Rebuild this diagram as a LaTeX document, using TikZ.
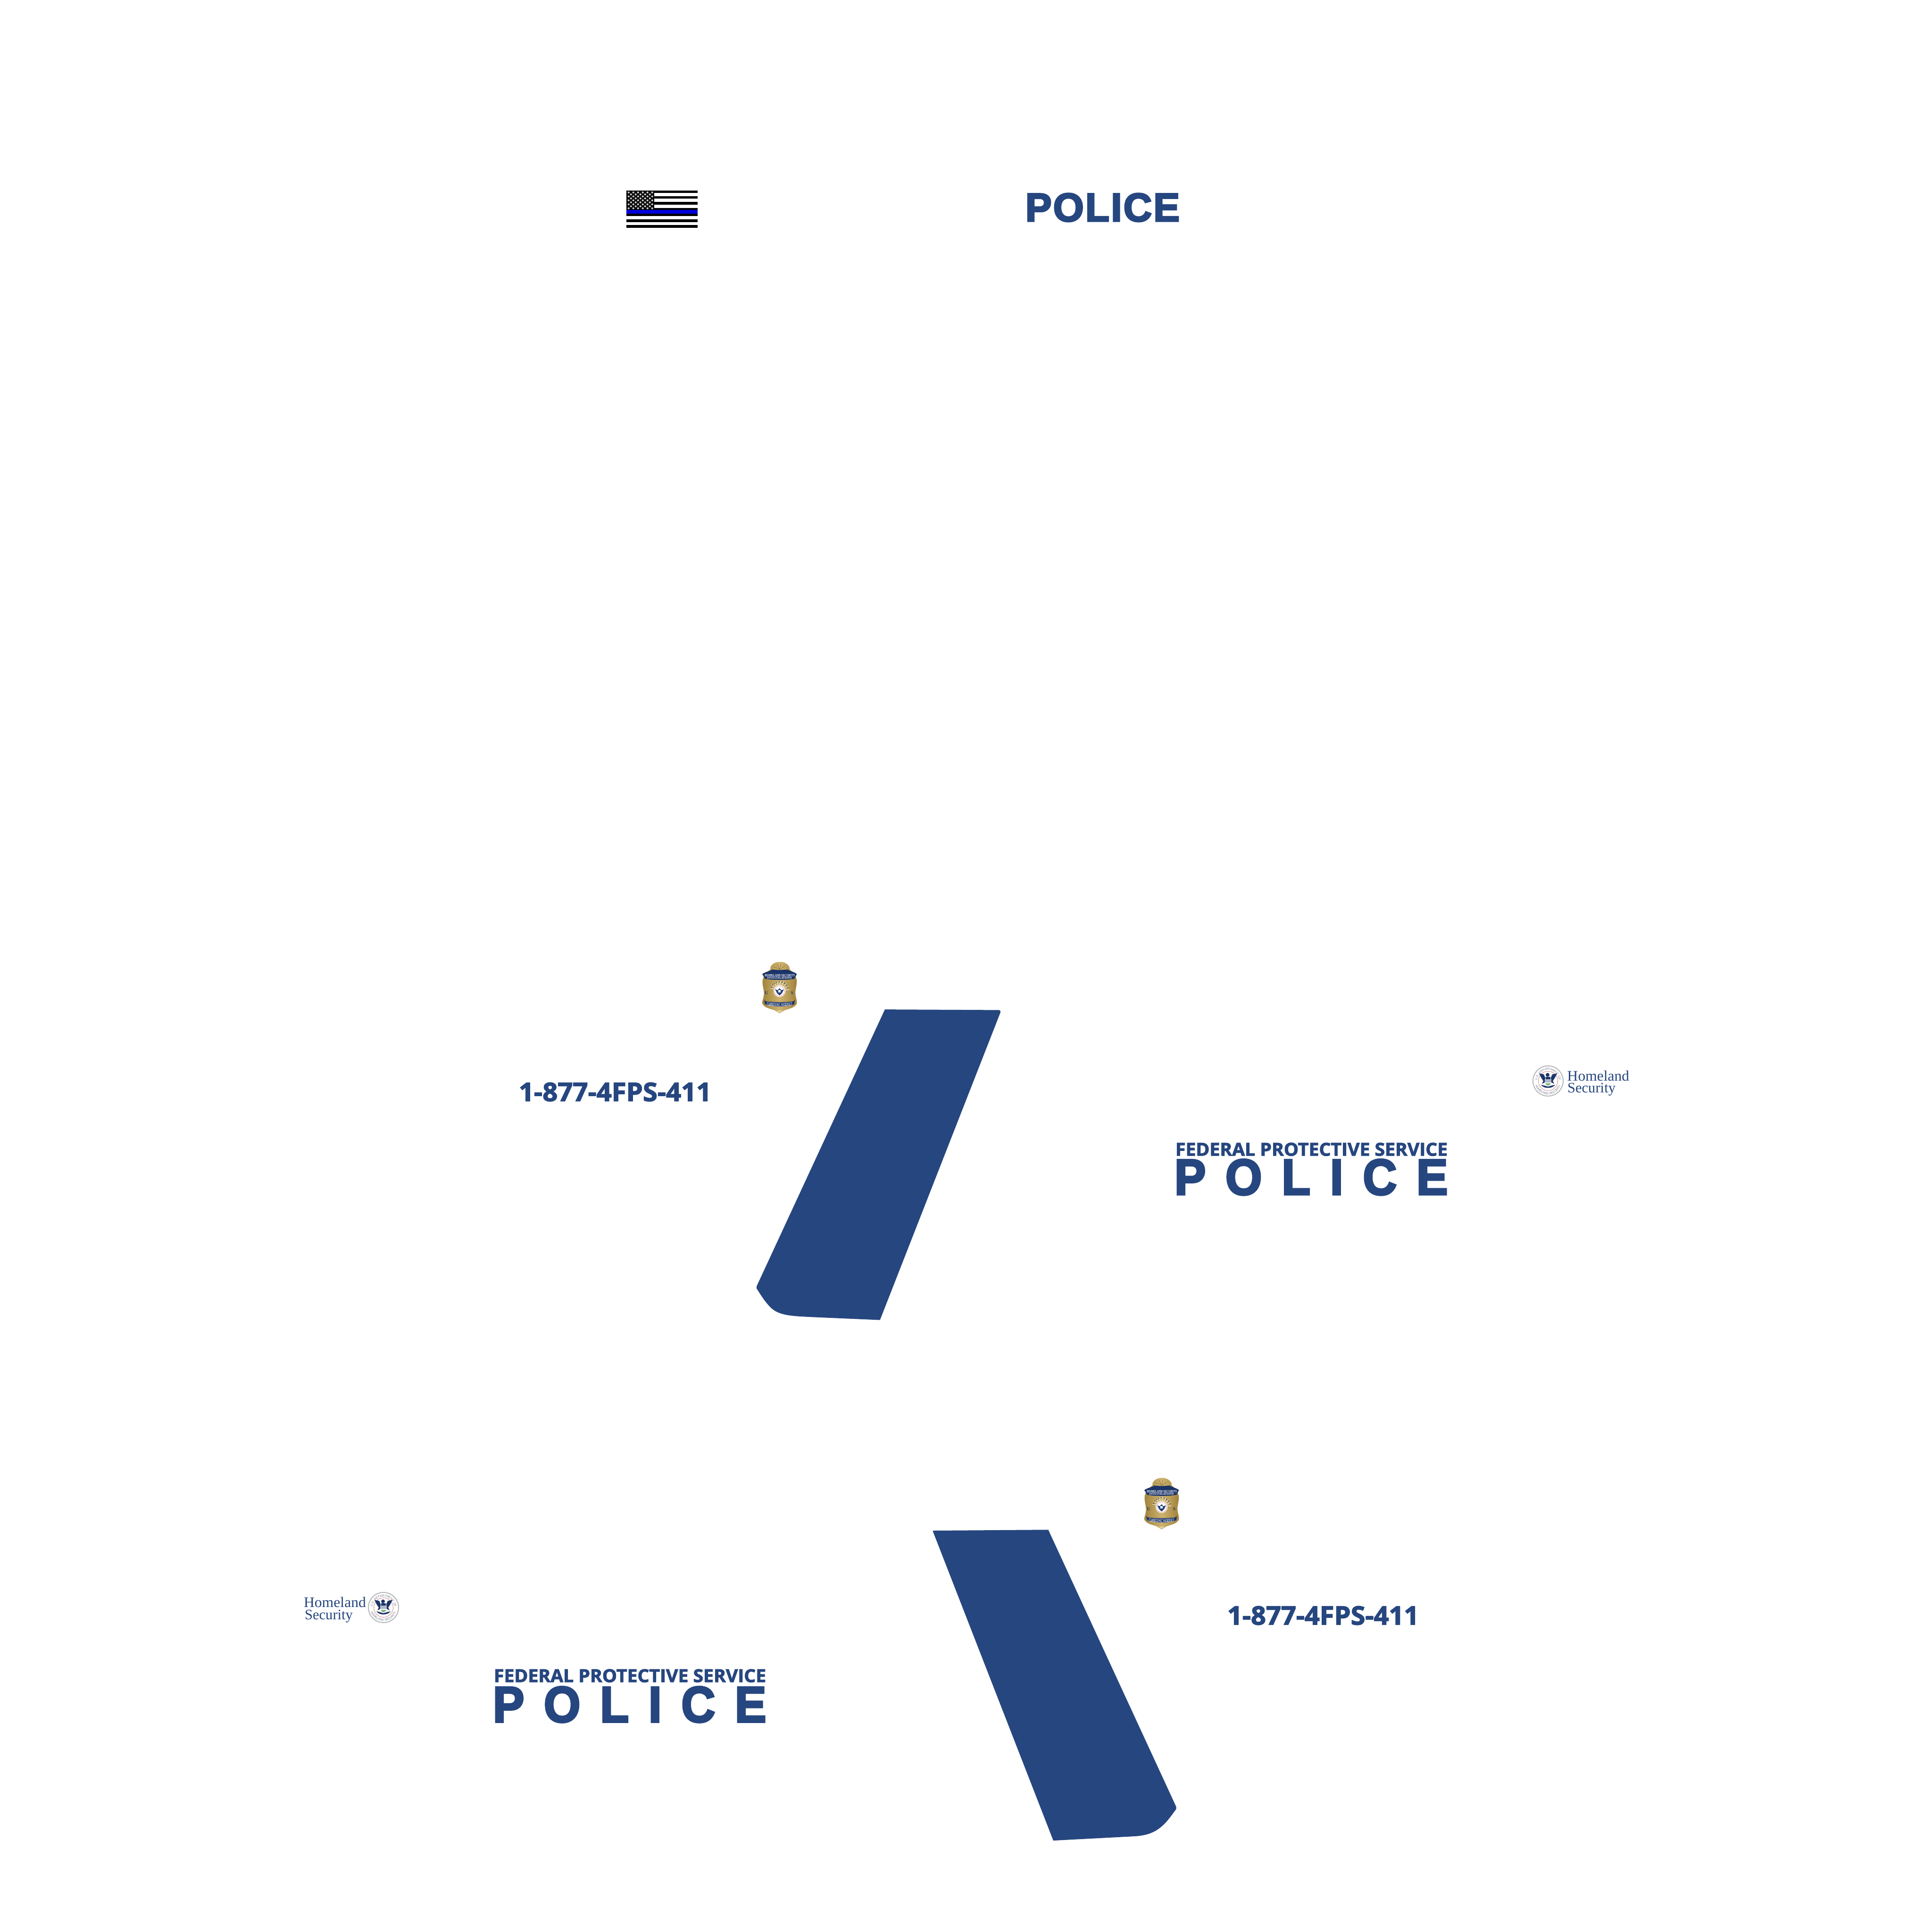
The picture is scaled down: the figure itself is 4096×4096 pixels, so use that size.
\documentclass[tikz,border=0pt]{standalone}
\usepackage{graphicx}
\usepackage{fontspec}
\usetikzlibrary{decorations.text}
\setmainfont{Liberation Serif}
\newfontfamily\heavyfont{Open Sans}[UprightFont=* Bold,FakeBold=2.5]
\newfontfamily\blackfont{Liberation Sans}[UprightFont=* Bold,FakeBold=4,LetterSpace=4]
\newfontfamily\spacedfont{Liberation Sans}[UprightFont=* Bold,FakeBold=4,LetterSpace=42]
\newfontfamily\sealfont{Liberation Sans}
\newfontfamily\badgefont{Liberation Serif}[UprightFont=* Bold]
\definecolor{fpsblue}{HTML}{26467F}
\definecolor{navy}{HTML}{1B3468}
\definecolor{sealgray}{HTML}{6F7C93}
\definecolor{goldA}{HTML}{A0813A}
\definecolor{goldB}{HTML}{CDB36F}
\definecolor{goldC}{HTML}{B29348}
\definecolor{goldT}{HTML}{E8D9A8}
\tikzset{
  fitted/.style={inner sep=0pt,outer sep=0pt,anchor=north west,text=fpsblue},
  bluepanel/.style={fill=fpsblue,draw=none},
  hstext/.style={inner sep=0pt,outer sep=0pt,anchor=base west,text=fpsblue},
  badgetext/.style={inner sep=0pt,outer sep=0pt,text=white}
}
\newcommand{\fitted}[3]{\resizebox{#1pt}{#2pt}{#3}}
% DHS seal: centre (#1,#2) in picture coordinates, local axes y-up, 1pt = 1px
\newcommand{\dhsseal}[2]{%
\begin{scope}[shift={(#1,#2)},x=1pt,y=1pt]
  \fill[white] (0,0) circle (33);
  \draw[color=black!28,line width=2pt] (0,0) circle (32);
  \draw[color=red!45!gray!70,line width=0.8pt] (0,0) circle (20.5);
  \path[postaction={decorate,decoration={text along path,text align=center,
      text={|\sealfont\fontsize{6.4}{7}\selectfont\color{sealgray}|U.S. DEPARTMENT OF}}}]
      (-23,-3) arc (187:-7:23);
  \path[postaction={decorate,decoration={text along path,text align=center,
      text={|\sealfont\fontsize{6.4}{7}\selectfont\color{sealgray}|HOMELAND SECURITY}}}]
      (-28.5,-2) arc (184:356:28.5);
  \fill[navy] (-19,16) -- (-9,14) -- (-6,7) -- (-7,-3) -- (-13,-6) -- (-10,0) -- (-14,6) -- cycle;
  \fill[navy] (19,16) -- (9,14) -- (6,7) -- (7,-3) -- (13,-6) -- (10,0) -- (14,6) -- cycle;
  \fill[navy] (-1,13) circle (4);
  \fill[navy] (-5,9) rectangle (5,4);
  \fill[navy] (-15,-8) .. controls (-9,-17) and (9,-17) .. (15,-8) -- (7,-10) -- (0,-12) -- (-7,-10) -- cycle;
  \fill[navy!35!white] (-7,4) rectangle (7,-3);
  \fill[white] (-7,-3) rectangle (7,-5);
  \fill[green!30!gray!80] (-6,-5) -- (6,-5) -- (3,-9) -- (0,-10) -- (-3,-9) -- cycle;
\end{scope}}
% Badge: origin (#1,#2), drawn in 1/3 px units, y-down
\newcommand{\hsibadge}[2]{%
\begin{scope}[shift={(#1,#2)},scale=1/3]
  \shade[left color=goldA,right color=goldA,middle color=goldB]
    (130,135) .. controls (125,105) and (165,85) .. (190,88)
    .. controls (215,85) and (255,105) .. (252,135)
    .. controls (270,150) and (295,175) .. (298,210)
    .. controls (298,240) and (285,270) .. (290,300)
    .. controls (295,325) and (300,340) .. (298,352)
    .. controls (285,380) and (250,385) .. (222,395)
    -- (188,415) -- (155,395)
    .. controls (125,385) and (92,380) .. (78,352)
    .. controls (76,340) and (85,325) .. (88,300)
    .. controls (92,270) and (78,240) .. (80,210)
    .. controls (82,175) and (110,150) .. cycle;
  \shade[top color=goldT,bottom color=goldB] (170,398) -- (188,415) -- (206,398) -- cycle;
  \foreach \a/\b in {150/118,172/105,195/102,220/115}
    \draw[color=goldA!70!black,line width=0.5pt] (\a,\b) -- (190,135);
  % upper banner
  \fill[navy] (78,165) .. controls (100,150) and (125,148) .. (142,136)
    .. controls (165,140) and (210,140) .. (240,136)
    .. controls (255,148) and (280,150) .. (298,165)
    -- (283,195) .. controls (240,205) and (140,205) .. (96,195) -- cycle;
  \node[badgetext] at (190,173)
     {\fitted{64}{5}{\badgefont HOMELAND SECURITY}};
  \node[badgetext] at (188,191)
     {\fitted{52}{4.5}{\badgefont INVESTIGATIONS}};
  % rays and centre seal
  \foreach \r in {-75,-55,-35,-15,5,25,45,65,85}
    \draw[white!85!goldT,line width=1pt] (188,270) -- ++(\r-90:62);
  \fill[white] (188,273) circle (38);
  \draw[color=red!45!gray!70,line width=0.6pt] (188,273) circle (33);
  \fill[fpsblue] (160,262) -- (176,268) -- (188,255) -- (200,268) -- (216,262) -- (205,285) -- (188,300) -- (171,285) -- cycle;
  \fill[white] (181,268) rectangle (195,282);
  \fill[navy] (174,288) -- (202,288) -- (188,300) -- cycle;
  % U S
  \node[inner sep=0pt,text=navy,font=\badgefont\fontsize{10}{10}\selectfont] at (105,287) {U};
  \node[inner sep=0pt,text=navy,font=\badgefont\fontsize{10}{10}\selectfont] at (268,287) {S};
  % stars
  \foreach \a in {-70,-52,-35,-18,0,18,35,52,70}
    \fill[navy] (188,270) ++(\a-90:56) circle (3.5);
  % lower banner
  \fill[navy] (90,332) -- (105,340) .. controls (150,345) and (225,345) .. (272,340)
    -- (285,332) -- (282,355) -- (270,362)
    .. controls (230,375) and (150,375) .. (108,362) -- (95,355) -- cycle;
  \draw[white,line width=0.6pt] (110,347) .. controls (150,352) and (225,352) .. (265,347)
    -- (265,362) .. controls (225,372) and (150,372) .. (110,362) -- cycle;
  \node[badgetext] at (188,360)
     {\fitted{47}{4.2}{\badgefont SPECIAL AGENT}};
\end{scope}}
\begin{document}
\begin{tikzpicture}[x=1pt,y=-1pt]
\useasboundingbox (0,0) rectangle (4096,4096);
\fill[white] (0,0) rectangle (4096,4096);

% flag
\fill[black] (1328.3,403.7) rectangle (1478.7,409.3);
\fill[black] (1328.3,416) rectangle (1478.7,421.3);
\fill[black] (1328.3,428.3) rectangle (1478.7,433.7);
\fill[black] (1328.3,440.7) rectangle (1478.7,445.3);
\fill[blue!85!black] (1328.3,445.3) rectangle (1478.7,453.3);
\fill[black] (1328.3,453.3) rectangle (1478.7,458.3);
\fill[black] (1328.3,464.7) rectangle (1478.7,470.7);
\fill[black] (1328.3,477) rectangle (1478.7,483.3);
\fill[black] (1328.3,403.7) rectangle (1387.3,445.3);
\foreach \yy in {0,2,4,6,8}
  \foreach \xx in {0,...,5}
    \fill[black!22] (1332.7+\xx*10,408+\yy*4.2) circle (2.1);
\foreach \yy in {1,3,5,7}
  \foreach \xx in {0,...,4}
    \fill[black!22] (1337.7+\xx*10,408+\yy*4.2) circle (2.1);

% panels
\fill[bluepanel] (1876,2140.1) -- (2118,2141.4) .. controls (2121,2141.4) and (2121.5,2144) .. (2120.8,2146.8)
  -- (1865.6,2798.5) -- (1721.9,2792.3)
  .. controls (1680,2790) and (1650,2790) .. (1632,2770)
  .. controls (1622,2760) and (1612,2744) .. (1604.1,2731.6) -- (1604.1,2727.1) -- cycle;
\fill[bluepanel] (1977.9,3246.8) .. controls (1977.5,3245.5) and (1978.5,3245) .. (1979.6,3245)
  -- (2222.4,3243.2) -- (2493.7,3830.7) -- (2493.7,3835.2)
  .. controls (2484,3848) and (2474,3864) .. (2458,3876)
  .. controls (2442,3888) and (2425,3892) .. (2402.7,3893.2)
  -- (2233.1,3902.1) -- cycle;

% texts
\node[fitted] (policeTop) at (2174,410) {\fitted{327}{59}{\blackfont POLICE}};
\node[fitted] (phoneA) at (1100,2295) {\fitted{408}{39.5}{\heavyfont 1-877-4FPS-411}};
\node[fitted] (phoneB) at (2602,3405) {\fitted{406}{39.5}{\heavyfont 1-877-4FPS-411}};
\node[fitted] (fpsA) at (2492,2422.7) {\fitted{577}{27.5}{\heavyfont FEDERAL PROTECTIVE SERVICE}};
\node[fitted] (fpsB) at (1047,3538.7) {\fitted{577}{27.5}{\heavyfont FEDERAL PROTECTIVE SERVICE}};
\node[fitted] (policeA) at (2490,2458) {\fitted{579}{74.5}{\spacedfont POLICE}};
\node[fitted] (policeB) at (1045,3576) {\fitted{579}{74.5}{\spacedfont POLICE}};

% homeland security logos
\dhsseal{3282}{2291.7}
\node[hstext] (hlA) at (3322.7,2291.7) {\fitted{131.3}{21.5}{Homeland}};
\node[hstext] (secA) at (3323,2316) {\resizebox{102pt}{!}{Security}};
\dhsseal{813}{3408}
\node[hstext] (hlB) at (644,3407) {\fitted{132}{21.5}{Homeland}};
\node[hstext] (secB) at (646,3433) {\resizebox{102pt}{!}{Security}};

% badges
\hsibadge{1590}{2010}
\hsibadge{2400}{3104}
\end{tikzpicture}
\end{document}
